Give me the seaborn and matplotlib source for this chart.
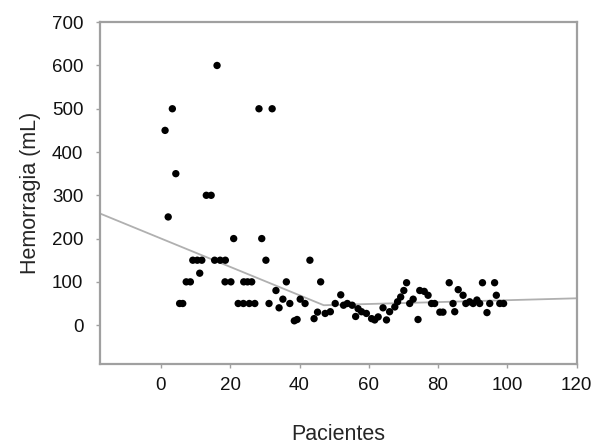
import matplotlib
matplotlib.use("Agg")
import matplotlib.pyplot as plt
import seaborn as sns
import pandas as pd

# Datos (paciente, hemorragia en mL)
pacientes = [1.2, 2.1, 3.3, 4.3, 5.4, 6.3, 7.3, 8.5, 9.2, 10.5, 11.2, 11.8,
             13.1, 14.5, 15.5, 16.2, 17.1, 18.6, 18.5, 20.2, 21.0, 22.3, 23.8,
             23.9, 25.0, 25.5, 26.2, 27.1, 28.3, 29.1, 30.3, 31.2, 32.1, 33.2,
             34.1, 35.2, 36.2, 37.2, 38.5, 39.3, 40.2, 41.6, 43.0, 44.2, 45.2,
             46.1, 47.4, 48.9, 50.3, 51.9, 52.7, 53.8, 55.2, 56.2, 56.9, 57.9,
             59.3, 60.8, 61.7, 62.7, 64.1, 65.1, 66.0, 67.5, 68.3, 69.2, 70.1,
             70.9, 71.8, 72.8, 74.2, 74.7, 76.0, 77.1, 78.1, 79.0, 80.5, 81.4,
             83.2, 84.3, 84.8, 85.8, 87.2, 88.0, 89.1, 90.1, 91.2, 92.0, 92.8,
             94.1, 94.9, 96.3, 96.8, 97.8, 98.9]
hemorragia = [450, 250, 500, 350, 50, 50, 100, 100, 150, 150, 120, 150,
              300, 300, 150, 600, 150, 150, 100, 100, 200, 50, 50,
              100, 100, 50, 100, 50, 500, 200, 150, 50, 500, 80,
              40, 60, 100, 50, 10, 13, 60, 50, 150, 15, 30,
              100, 27, 31, 50, 70, 46, 50, 46, 20, 38, 31,
              27, 15, 12, 19, 40, 12, 31, 42, 54, 65, 80,
              98, 50, 60, 13, 80, 78, 69, 50, 50, 30, 30,
              98, 50, 31, 82, 69, 50, 54, 50, 58, 50, 98,
              29, 50, 98, 69, 50, 50]

# Recta de tendencia (segmentada)
tendencia_x = [-17.6, 47, 120]
tendencia_y = [258, 46, 62]

df = pd.DataFrame({"Pacientes": pacientes, "Hemorragia": hemorragia})
df_tend = pd.DataFrame({"x": tendencia_x, "y": tendencia_y})

sns.set_style("white")
plt.rcParams["font.family"] = ["Liberation Sans", "DejaVu Sans"]

fig = plt.figure(figsize=(6.02, 4.44), dpi=100)
ax = fig.add_axes([0.166, 0.180, 0.792, 0.770])

sns.lineplot(data=df_tend, x="x", y="y", color="#b0b0b0", linewidth=1.3, ax=ax)
sns.scatterplot(data=df, x="Pacientes", y="Hemorragia", color="black", s=28,
                edgecolor="none", ax=ax, zorder=3)

ax.set_xlim(-17.6, 120)
ax.set_ylim(-90, 700)
ax.set_xticks([0, 20, 40, 60, 80, 100, 120])
ax.set_yticks([0, 100, 200, 300, 400, 500, 600, 700])

for sp in ax.spines.values():
    sp.set_color("#a0a0a0")
    sp.set_linewidth(1.6)

ax.tick_params(axis="both", colors="#a0a0a0", labelcolor="#111111",
               labelsize=13.5, length=3, width=1, direction="out", pad=6,
               bottom=True, left=True)
ax.tick_params(axis="y", pad=9)

ax.set_xlabel("Pacientes", fontsize=15.5, labelpad=22)
ax.set_ylabel("Hemorragia (mL)", fontsize=15.5, labelpad=8)

plt.savefig("out.png", dpi=100)
plt.close()
